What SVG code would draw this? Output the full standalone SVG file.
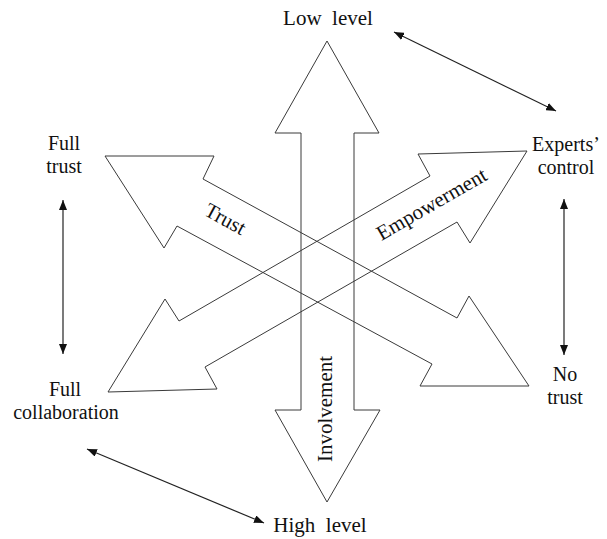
<svg xmlns="http://www.w3.org/2000/svg" width="607" height="539" viewBox="0 0 607 539">
<style>
.big2{fill:none;stroke:#3a3a3a;stroke-width:1}
.t{font-family:"Liberation Serif","Times New Roman",serif;font-size:21px;fill:#111}
.s{font-size:20px}
.c{text-anchor:middle}
.con{stroke:#222;stroke-width:1.2;fill:none;marker-start:url(#ah);marker-end:url(#ah)}
</style>
<defs>
<marker id="ah" viewBox="0 0 10 8" refX="10" refY="4" markerWidth="10" markerHeight="8" markerUnits="userSpaceOnUse" orient="auto-start-reverse">
<path d="M0,0 L10,4 L0,8 z" fill="#111"/>
</marker>
</defs>
<rect width="607" height="539" fill="#fff"/>
<g id="arrow-trust">
<polygon class="big2" points="105,156 214,156 203,179 457,318 469,296 529,386 420,386 432,364 177,226 164,248"/>
</g>
<g id="arrow-empowerment">
<polygon class="big2" points="527,151 470,243 457,222 205,367 217,389 108,392 165,299 179,321 430,176 418,154"/>
</g>
<g id="arrow-involvement">
<polygon class="big2" points="327,41 379,133 354,133 354,410 380,410 327,502 275,410 301,410 301,133 275,133"/>
</g>
<g id="label-trust"><text class="t c" transform="translate(222,225) rotate(28.7)" x="0" y="0">Trust</text></g>
<g id="label-empowerment"><text class="t c" transform="translate(435,210) rotate(-30)" x="0" y="0">Empowerment</text></g>
<g id="label-involvement"><text class="t c" transform="translate(332,409) rotate(-90)" x="0" y="0">Involvement</text></g>
<g id="node-low-level"><text class="t c" x="328" y="25" xml:space="preserve">Low  level</text></g>
<g id="node-experts-control"><text class="t s c" x="566" y="151">Experts’</text><text class="t s c" x="566" y="173.5">control</text></g>
<g id="node-full-trust"><text class="t s c" x="64" y="150">Full</text><text class="t s c" x="64" y="172.5">trust</text></g>
<g id="node-full-collaboration"><text class="t s c" x="65" y="396">Full</text><text class="t s c" x="66" y="418.5">collaboration</text></g>
<g id="node-no-trust"><text class="t s c" x="565" y="381">No</text><text class="t s c" x="565" y="403.5">trust</text></g>
<g id="node-high-level"><text class="t c" x="320" y="532" xml:space="preserve">High  level</text></g>
<g id="connectors">
<line class="con" x1="394" y1="32" x2="556" y2="111"/>
<line class="con" x1="63" y1="200" x2="63" y2="354"/>
<line class="con" x1="564" y1="199" x2="564" y2="355"/>
<line class="con" x1="87" y1="449" x2="264" y2="523"/>
</g>
</svg>
